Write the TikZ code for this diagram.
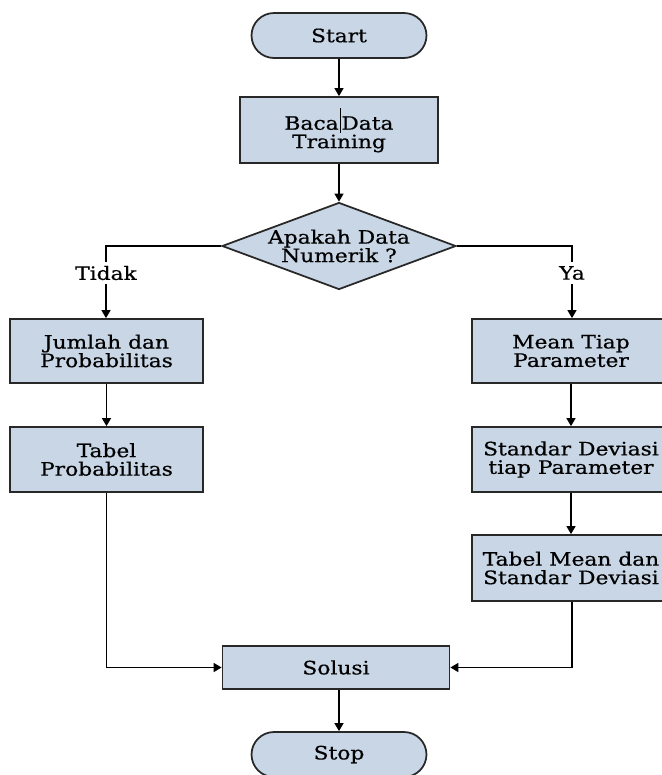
\documentclass[tikz,border=0pt]{standalone}
\usepackage{fontspec}
\setmainfont{DejaVu Serif}[FakeStretch=1.18,FakeBold=0.6]
\usetikzlibrary{arrows.meta}
\usetikzlibrary{shapes.geometric}
\usetikzlibrary{shapes.misc}
\definecolor{boxblue}{RGB}{200,214,230}
\definecolor{edgegrey}{RGB}{40,40,40}

\begin{document}
\begin{tikzpicture}[x=0.02cm, y=-0.02cm,
  font=\fontsize{10.5}{10.5}\selectfont,
  proc/.style={draw=edgegrey, line width=1pt, fill=boxblue,
       align=center, inner sep=0cm},
  term/.style={proc, rounded rectangle, minimum width=3.5cm,
       minimum height=0.9cm},
  decide/.style={proc, diamond, aspect=2.7, minimum width=4.68cm,
       minimum height=1.74cm},
  link/.style={line width=1pt, black},
  flow/.style={link, -{Triangle[width=5pt,length=4.5pt]}},
  lbl/.style={inner sep=2pt}]

\useasboundingbox (0,0) rectangle (662,775);

% centre column
\draw (339,35.5) node[term] (start) {Start};
\draw (339,130) node[proc, minimum width=3.96cm, minimum height=1.32cm] (baca)
  {Baca\hspace{0.05em}\rule[-0.3ex]{0.5pt}{2.6ex}\hspace{0.05em}Data\\Training};
\draw (339,246) node[decide] (cek) {Apakah Data\\Numerik ?};

% left column
\draw (106,273) node[lbl] (tidak) {Tidak};
\draw (106.5,351) node[proc, minimum width=3.86cm, minimum height=1.28cm] (jumlah)
  {Jumlah dan\\Probabilitas};
\draw (106.5,459.5) node[proc, minimum width=3.86cm, minimum height=1.3cm] (tabelprob)
  {Tabel\\Probabilitas};

% right column
\draw (572,273) node[lbl] (ya) {Ya};
\draw (571,351) node[proc, minimum width=3.96cm, minimum height=1.28cm] (mean)
  {Mean Tiap\\Parameter};
\draw (571,459.5) node[proc, minimum width=3.96cm, minimum height=1.3cm] (stdev)
  {Standar Deviasi\\tiap Parameter};
\draw (571,568) node[proc, minimum width=3.96cm, minimum height=1.32cm] (tabelmean)
  {Tabel Mean dan\\Standar Deviasi};

% bottom
\draw (336,667.5) node[proc, minimum width=4.54cm, minimum height=0.86cm] (solusi)
  {Solusi};
\draw (339,754.5) node[term] (stop) {Stop};

% connectors
\draw[flow] (start) -- (baca);
\draw[flow] (baca) -- (cek);
\draw[link] (cek.west) -| (tidak.north);
\draw[flow] (tidak.south) -- (tidak.south |- jumlah.north);
\draw[link] (cek.east) -| (ya.north);
\draw[flow] (ya.south) -- (ya.south |- mean.north);
\draw[flow] (jumlah) -- (tabelprob);
\draw[flow] (mean) -- (stdev);
\draw[flow] (stdev) -- (tabelmean);
\draw[flow] (tabelprob.south) |- (solusi.west);
\draw[flow] (tabelmean.south -| ya) |- (solusi.east);
\draw[flow] (solusi.south -| stop) -- (stop);
\end{tikzpicture}
\end{document}
